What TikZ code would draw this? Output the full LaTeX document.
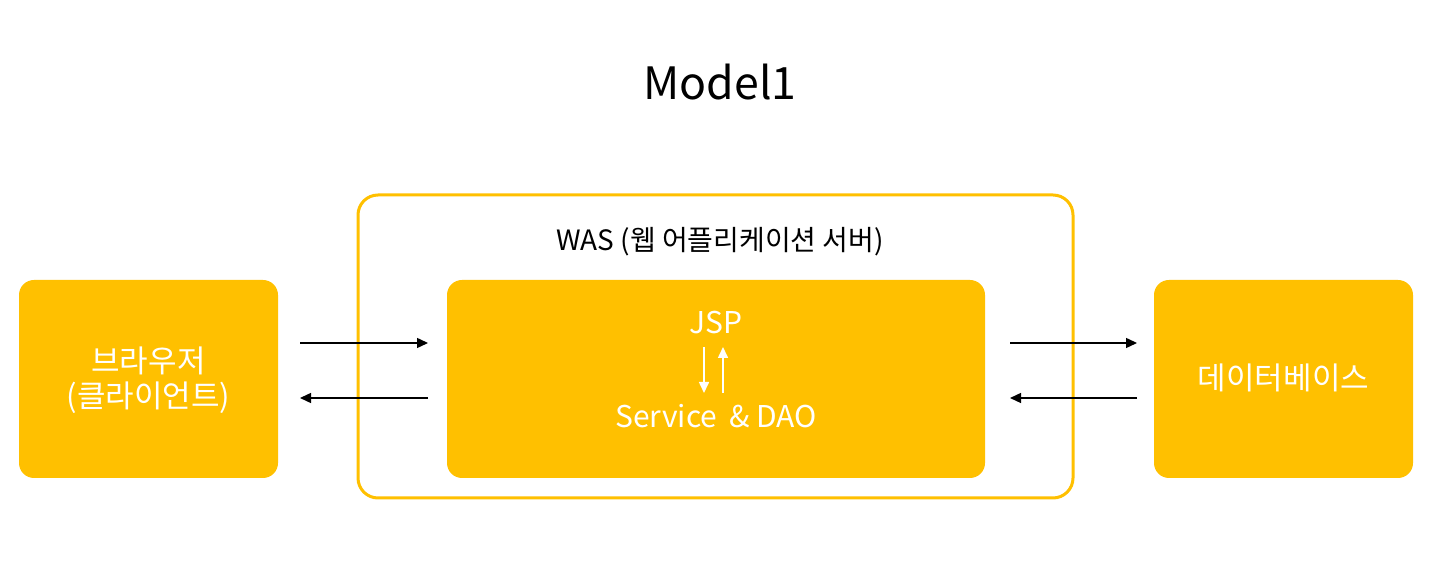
\documentclass[tikz,border=0pt]{standalone}
\usepackage{fontspec}
\setmainfont{Noto Sans CJK KR}
\usetikzlibrary{arrows.meta}
\definecolor{gold}{HTML}{FFC000}
\tikzset{
  x=0.5pt,y=-0.5pt,
  fillbox/.style={fill=gold,draw=none,rounded corners=7.5pt},
  wastxt/.style={font=\fontsize{14}{17}\selectfont},
  whitetxt/.style={text=white,font=\fontsize{15}{17.5}\selectfont,align=center},
  kortxt/.style={whitetxt,font=\fontsize{15.5}{17.5}\selectfont},
  flow/.style={-{Triangle[length=5.5pt,width=5pt]},line width=0.7pt,black},
  inner/.style={-{Triangle[length=5.5pt,width=5pt]},line width=0.8pt,white},
}
\begin{document}
\begin{tikzpicture}
\useasboundingbox (0,0) rectangle (1439,581);
\node[font=\fontsize{22.3}{27}\selectfont] (title) at (720,82) {Model1};
% WAS
\draw[draw=gold,line width=1.5pt,rounded corners=10pt,fill=white] (358,195) rectangle (1073,498);
\node[wastxt] (waslbl) at (720,242) {WAS (웹 어플리케이션 서버)};
% boxes
\fill[fillbox] (19,280) rectangle (278,478);
\node[kortxt] (browser) at (148.5,380) {브라우저\\(클라이언트)};
\fill[fillbox] (447,280) rectangle (985,478);
\node[whitetxt] (jsp) at (716,323) {JSP};
\node[whitetxt] (svc) at (716,416) {Service \,\& DAO};
\fill[fillbox] (1154,280) rectangle (1413,478);
\node[kortxt] (db) at (1283.5,378) {데이터베이스};
% coordinates for connectors
\coordinate (a1) at (300,343); \coordinate (a2) at (428,343);
\coordinate (b1) at (428,398); \coordinate (b2) at (300,398);
\coordinate (c1) at (1010,343); \coordinate (c2) at (1137,343);
\coordinate (d1) at (1137,398); \coordinate (d2) at (1010,398);
\draw[flow] (a1) -- (a2);
\draw[flow] (b1) -- (b2);
\draw[flow] (c1) -- (c2);
\draw[flow] (d1) -- (d2);
\coordinate (j1) at (704,347); \coordinate (j2) at (704,393);
\coordinate (k1) at (723,393); \coordinate (k2) at (723,347);
\draw[inner] (j1) -- (j2);
\draw[inner] (k1) -- (k2);
\end{tikzpicture}
\end{document}
